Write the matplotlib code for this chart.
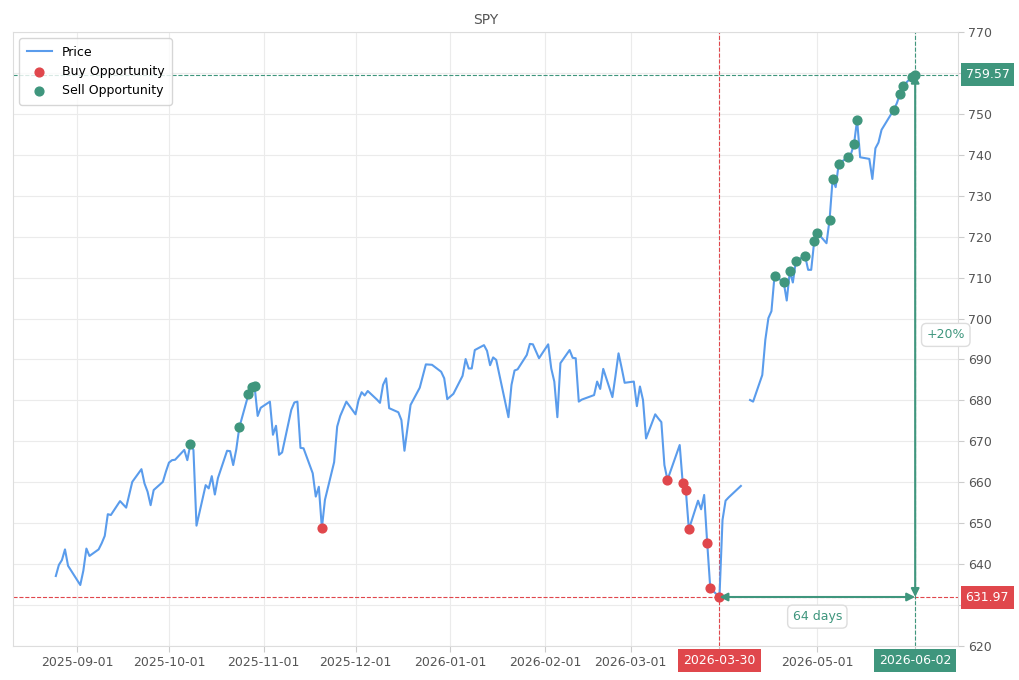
import matplotlib
matplotlib.use("Agg")
import matplotlib.pyplot as plt
import matplotlib.dates as mdates
import numpy as np
import pandas as pd

# price series (NaN = missing days)
dates = pd.to_datetime([
    "2025-08-25", "2025-08-26", "2025-08-27", "2025-08-28", "2025-08-29",
    "2025-09-02", "2025-09-03", "2025-09-04", "2025-09-05", "2025-09-08",
    "2025-09-09", "2025-09-10", "2025-09-11", "2025-09-12", "2025-09-15",
    "2025-09-16", "2025-09-17", "2025-09-18", "2025-09-19", "2025-09-22",
    "2025-09-23", "2025-09-24", "2025-09-25", "2025-09-26", "2025-09-29",
    "2025-09-30", "2025-10-01", "2025-10-02", "2025-10-03", "2025-10-06",
    "2025-10-07", "2025-10-08", "2025-10-09", "2025-10-10", "2025-10-13",
    "2025-10-14", "2025-10-15", "2025-10-16", "2025-10-17", "2025-10-20",
    "2025-10-21", "2025-10-22", "2025-10-23", "2025-10-24", "2025-10-27",
    "2025-10-28", "2025-10-29", "2025-10-30", "2025-10-31", "2025-11-03",
    "2025-11-04", "2025-11-05", "2025-11-06", "2025-11-07", "2025-11-10",
    "2025-11-11", "2025-11-12", "2025-11-13", "2025-11-14", "2025-11-17",
    "2025-11-18", "2025-11-19", "2025-11-20", "2025-11-21", "2025-11-24",
    "2025-11-25", "2025-11-26", "2025-11-28", "2025-12-01", "2025-12-02",
    "2025-12-03", "2025-12-04", "2025-12-05", "2025-12-08", "2025-12-09",
    "2025-12-10", "2025-12-11", "2025-12-12", "2025-12-15", "2025-12-16",
    "2025-12-17", "2025-12-18", "2025-12-19", "2025-12-22", "2025-12-23",
    "2025-12-24", "2025-12-26", "2025-12-29", "2025-12-30", "2025-12-31",
    "2026-01-02", "2026-01-05", "2026-01-06", "2026-01-07", "2026-01-08",
    "2026-01-09", "2026-01-12", "2026-01-13", "2026-01-14", "2026-01-15",
    "2026-01-16", "2026-01-20", "2026-01-21", "2026-01-22", "2026-01-23",
    "2026-01-26", "2026-01-27", "2026-01-28", "2026-01-29", "2026-01-30",
    "2026-02-02", "2026-02-03", "2026-02-04", "2026-02-05", "2026-02-06",
    "2026-02-09", "2026-02-10", "2026-02-11", "2026-02-12", "2026-02-13",
    "2026-02-17", "2026-02-18", "2026-02-19", "2026-02-20", "2026-02-23",
    "2026-02-24", "2026-02-25", "2026-02-26", "2026-02-27", "2026-03-02",
    "2026-03-03", "2026-03-04", "2026-03-05", "2026-03-06", "2026-03-09",
    "2026-03-10", "2026-03-11", "2026-03-12", "2026-03-13", "2026-03-16",
    "2026-03-17", "2026-03-18", "2026-03-19", "2026-03-20", "2026-03-23",
    "2026-03-24", "2026-03-25", "2026-03-26", "2026-03-27", "2026-03-30",
    "2026-03-31", "2026-04-01", "2026-04-02", "2026-04-06", "2026-04-07",
    "2026-04-08", "2026-04-09", "2026-04-10", "2026-04-13", "2026-04-14",
    "2026-04-15", "2026-04-16", "2026-04-17", "2026-04-20", "2026-04-21",
    "2026-04-22", "2026-04-23", "2026-04-24", "2026-04-27", "2026-04-28",
    "2026-04-29", "2026-04-30", "2026-05-01", "2026-05-04", "2026-05-05",
    "2026-05-06", "2026-05-07", "2026-05-08", "2026-05-11", "2026-05-12",
    "2026-05-13", "2026-05-14", "2026-05-15", "2026-05-18", "2026-05-19",
    "2026-05-20", "2026-05-21", "2026-05-22", "2026-05-26", "2026-05-27",
    "2026-05-28", "2026-05-29", "2026-06-01", "2026-06-02",
])
prices = [
    637.1, 639.8, 641.0, 643.6, 639.6,
    634.9, 638.4, 643.8, 642.0, 643.6,
    645.1, 646.9, 652.2, 652.0, 655.4,
    654.6, 653.8, 657.0, 660.1, 663.2,
    659.7, 657.7, 654.4, 658.1, 660.1,
    662.6, 664.8, 665.4, 665.5, 667.9,
    665.4, 669.3, 667.9, 649.4, 659.3,
    658.5, 661.5, 657.0, 661.0, 667.7,
    667.6, 664.2, 668.0, 673.4, 681.5,
    683.2, 683.4, 676.2, 678.2, 679.7,
    671.6, 673.8, 666.7, 667.3, 677.7,
    679.5, 679.7, 668.4, 668.3, 662.2,
    656.5, 658.9, 648.8, 655.7, 664.9,
    673.6, 676.2, 679.7, 676.6, 680.1,
    682.0, 681.2, 682.3, 680.2, 679.4,
    683.8, 685.4, 678.1, 677.1, 675.2,
    667.7, 673.2, 678.9, 683.1, 686.0,
    688.8, 688.7, 687.0, 685.4, 680.3,
    681.6, 686.0, 690.1, 687.8, 687.8,
    692.3, 693.5, 692.1, 688.6, 690.5,
    689.9, 675.9, 683.8, 687.3, 687.6,
    691.1, 693.8, 693.7, 692.0, 690.3,
    693.7, 687.8, 684.6, 675.9, 689.1,
    692.3, 690.4, 690.3, 679.7, 680.2,
    681.3, 684.6, 682.8, 687.7, 680.8,
    686.0, 691.5, 688.0, 684.3, 684.6,
    678.6, 683.4, 680.1, 670.7, 676.6,
    675.6, 674.7, 664.2, 660.6, 667.0,
    669.1, 659.7, 658.1, 648.5, 655.5,
    653.4, 656.9, 645.1, 634.1, 631.97,
    650.8, 655.5, 656.3, 659.1, np.nan,
    np.nan, 680.1, 679.7, 686.2, 694.8,
    700.1, 701.8, 710.4, 708.9, 704.4,
    711.5, 708.8, 714.1, 715.3, 711.9,
    711.9, 719.0, 721.0, 718.4, 724.1,
    734.0, 732.1, 737.8, 739.4, 740.2,
    742.6, 748.5, 739.4, 739.0, 734.1,
    741.6, 743.0, 746.1, 751.0, 752.6,
    754.8, 756.8, 759.1, 759.57,
]

buy_dates = pd.to_datetime([
    "2025-11-20", "2026-03-13", "2026-03-18", "2026-03-19", "2026-03-20",
    "2026-03-26", "2026-03-27", "2026-03-30",
])
buy_prices = [648.8, 660.6, 659.7, 658.1, 648.5, 645.1, 634.1, 631.97]

sell_dates = pd.to_datetime([
    "2025-10-08", "2025-10-24", "2025-10-27", "2025-10-28", "2025-10-29",
    "2026-04-17", "2026-04-20", "2026-04-22", "2026-04-24", "2026-04-27",
    "2026-04-30", "2026-05-01", "2026-05-05", "2026-05-06", "2026-05-08",
    "2026-05-11", "2026-05-13", "2026-05-14", "2026-05-26", "2026-05-28",
    "2026-05-29", "2026-06-01", "2026-06-02",
])
sell_prices = [
    669.3, 673.4, 681.5, 683.2, 683.4,
    710.4, 708.9, 711.5, 714.1, 715.3,
    719.0, 721.0, 724.1, 734.0, 737.8,
    739.4, 742.6, 748.5, 751.0, 754.8,
    756.8, 759.1, 759.57,
]

low_date = pd.Timestamp("2026-03-30")
low_price = 631.97
high_date = pd.Timestamp("2026-06-02")
high_price = 759.57
xtick_dates = ["2025-09-01", "2025-10-01", "2025-11-01", "2025-12-01", "2026-01-01",
               "2026-02-01", "2026-03-01", "2026-05-01"]
yticks = [620, 630, 640, 650, 660, 670, 680, 690, 700, 710, 720, 730, 740, 750, 760, 770]

BLUE = "#5a9cec"
RED = "#e0474c"
GREEN = "#3f967d"
TXT = "#555555"

fig = plt.figure(figsize=(10.2, 6.8), dpi=100)
ax = fig.add_axes([13 / 1020, 1 - 646 / 680, 945 / 1020, 614 / 680])

ax.plot(dates, prices, color=BLUE, lw=1.5, label="Price", zorder=3)
ax.scatter(buy_dates, buy_prices, color=RED, s=40, zorder=4, label="Buy Opportunity")
ax.scatter(sell_dates, sell_prices, color=GREEN, s=40, zorder=4, label="Sell Opportunity")

ax.set_xlim(pd.Timestamp("2025-08-11"), pd.Timestamp("2026-06-16"))
ax.set_ylim(620, 770)

ax.yaxis.tick_right()
ax.set_yticks(yticks)
ax.set_xticks(pd.to_datetime(xtick_dates + ["2026-03-30", "2026-06-02"]))
ax.xaxis.set_major_formatter(mdates.DateFormatter("%Y-%m-%d"))
ax.tick_params(axis="both", colors="#cccccc", labelcolor=TXT, labelsize=9, length=4)
for lab in ax.get_xticklabels():
    if lab.get_text() in ("2026-03-30", "2026-06-02"):
        lab.set_visible(False)
for lab in ax.get_yticklabels():
    if lab.get_text() in ("760", "630"):
        lab.set_visible(False)
ax.grid(True, color="#ebebeb", lw=0.8)
ax.set_axisbelow(True)
for sp in ax.spines.values():
    sp.set_color("#dddddd")

ax.set_title("SPY", color=TXT, fontsize=10, pad=6)

# reference lines
ax.axhline(high_price, color=GREEN, ls="--", lw=0.8, zorder=2)
ax.axhline(low_price, color=RED, ls="--", lw=0.8, zorder=2)
ax.axvline(low_date, color=RED, ls="--", lw=0.8, zorder=2)
ax.axvline(high_date, color=GREEN, ls="--", lw=0.8, zorder=2)

# arrows
ax.annotate("", xy=(high_date, high_price), xytext=(high_date, low_price),
            arrowprops=dict(arrowstyle="<|-|>", color=GREEN, lw=1.5,
                            mutation_scale=12, shrinkA=0, shrinkB=0), zorder=5)
ax.annotate("", xy=(low_date, low_price), xytext=(high_date, low_price),
            arrowprops=dict(arrowstyle="<|-|>", color=GREEN, lw=1.5,
                            mutation_scale=12, shrinkA=0, shrinkB=0), zorder=5)

mid = low_date + (high_date - low_date) / 2
days = (high_date - low_date).days
ax.text(mid, low_price - 4.8, f"{days} days", color=GREEN, fontsize=9,
        ha="center", va="center",
        bbox=dict(boxstyle="round,pad=0.4", fc="white", ec="#dddddd"))
pct = (high_price - low_price) / low_price * 100
ax.text(high_date + pd.Timedelta(days=10), 696,
        f"+{pct:.0f}%", color=GREEN, fontsize=9, ha="center", va="center",
        bbox=dict(boxstyle="round,pad=0.4", fc="white", ec="#dddddd"))

# value tags on axes
ytr = ax.get_yaxis_transform()
xtr = ax.get_xaxis_transform()
ax.text(1.008, high_price, f"{high_price:.2f}", transform=ytr, color="white",
        fontsize=9, ha="left", va="center", clip_on=False,
        bbox=dict(boxstyle="square,pad=0.4", fc=GREEN, ec="none"))
ax.text(1.008, low_price, f"{low_price:.2f}", transform=ytr, color="white",
        fontsize=9, ha="left", va="center", clip_on=False,
        bbox=dict(boxstyle="square,pad=0.4", fc=RED, ec="none"))
ax.text(low_date, -0.024, low_date.strftime("%Y-%m-%d"), transform=xtr,
        color="white", fontsize=9, ha="center", va="center", clip_on=False,
        bbox=dict(boxstyle="square,pad=0.4", fc=RED, ec="none"))
ax.text(high_date, -0.024, high_date.strftime("%Y-%m-%d"), transform=xtr,
        color="white", fontsize=9, ha="center", va="center", clip_on=False,
        bbox=dict(boxstyle="square,pad=0.4", fc=GREEN, ec="none"))

leg = ax.legend(loc="upper left", fontsize=9, frameon=True, fancybox=True,
                borderpad=0.6, labelspacing=0.5)
leg.get_frame().set_edgecolor("#cccccc")

fig.savefig("out.png", dpi=100)
